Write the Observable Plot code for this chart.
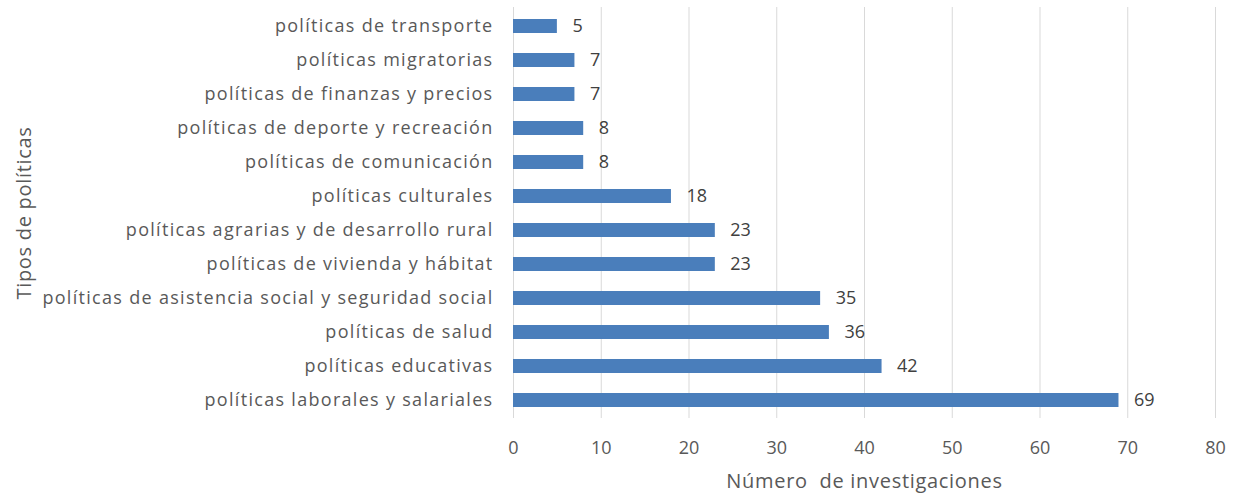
<!DOCTYPE html>
<html><head><meta charset="utf-8">
<script src="https://cdn.jsdelivr.net/npm/d3@7"></script>
<script src="https://cdn.jsdelivr.net/npm/@observablehq/plot@0.6"></script>
<style>body{margin:0;background:#fff}svg{font-family:"Open Sans",sans-serif}</style>
</head><body><div id="chart"></div>
<script>
const categories = [
  "políticas de transporte",
  "políticas migratorias",
  "políticas de finanzas y precios",
  "políticas de deporte y recreación",
  "políticas de comunicación",
  "políticas culturales",
  "políticas agrarias y de desarrollo rural",
  "políticas de vivienda y hábitat",
  "políticas de asistencia social y seguridad social",
  "políticas de salud",
  "políticas educativas",
  "políticas laborales y salariales"
];
const values = [5, 7, 7, 8, 8, 18, 23, 23, 35, 36, 42, 69];
const xTicks = [0, 10, 20, 30, 40, 50, 60, 70, 80];
const xTitle = "Número  de investigaciones";
const yTitle = "Tipos de políticas";
const data = categories.map((c, i) => ({cat: c, n: values[i]}));

const chart = Plot.plot({
  width: 1239, height: 498,
  marginLeft: 513, marginRight: 24, marginTop: 7, marginBottom: 80,
  style: {fontSize: "18px", fontFamily: "'Open Sans', sans-serif", color: "#595959", background: "#fff"},
  x: {domain: [0, 80], ticks: xTicks, tickSize: 0, tickPadding: 23, label: xTitle, labelAnchor: "center", labelOffset: 69, labelArrow: "none"},
  y: {domain: categories, paddingInner: 0.59, paddingOuter: 0.295, tickSize: 0, tickPadding: 20, label: yTitle, labelAnchor: "center", labelOffset: 497, labelArrow: "none"},
  marks: [
    Plot.gridX(xTicks, {stroke: "#d9d9d9", strokeOpacity: 1, strokeWidth: 1}),
    Plot.barX(data, {x: "n", y: "cat", fill: "#4a7ebb"}),
    Plot.text(data, {x: "n", y: "cat", text: d => String(d.n), textAnchor: "start", dx: 15, fontSize: 18, fill: "#404040"})
  ]
});
document.getElementById("chart").appendChild(chart);
const svg = d3.select(chart);
svg.selectAll('g[aria-label="y-axis tick label"] text').style("letter-spacing", "1.3px");
svg.selectAll('g[aria-label="x-axis label"] text, g[aria-label="y-axis label"] text')
  .style("font-size", "20px").style("letter-spacing", "0.7px");
</script></body></html>
